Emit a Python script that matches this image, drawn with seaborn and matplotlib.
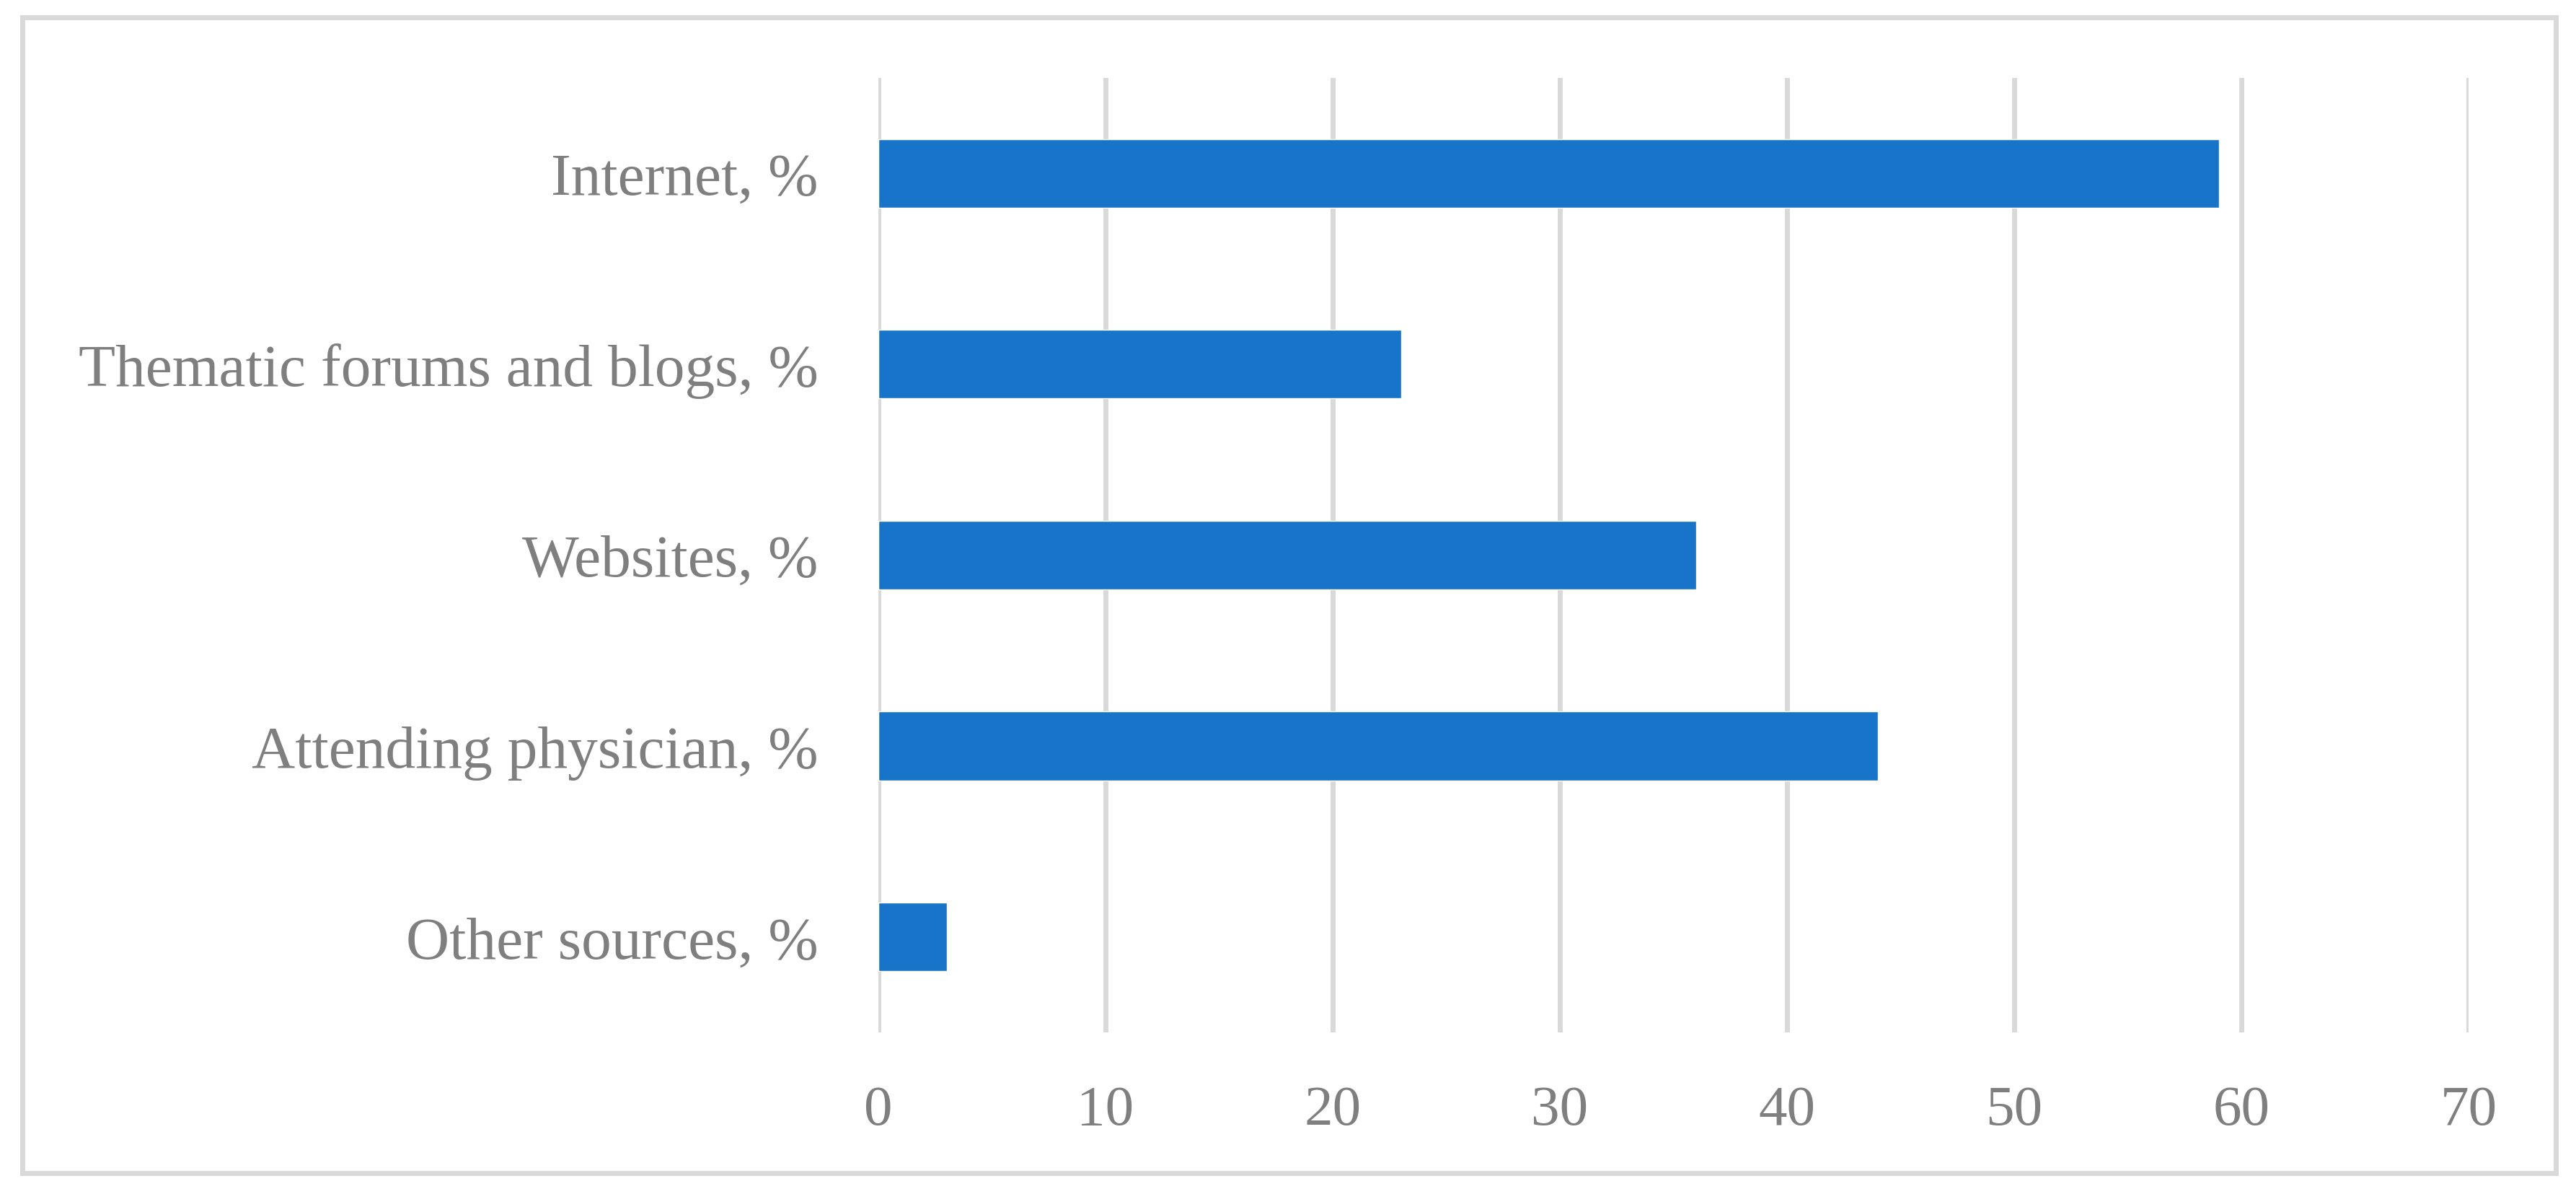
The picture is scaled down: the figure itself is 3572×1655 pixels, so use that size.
import matplotlib
matplotlib.use("Agg")
import matplotlib.pyplot as plt
from matplotlib.patches import Rectangle
import seaborn as sns
import pandas as pd

# === data ===
sources = ["Internet, %", "Thematic forums and blogs, %", "Websites, %",
           "Attending physician, %", "Other sources, %"]
shares = [59, 23, 36, 44, 3]
x_ticks = [0, 10, 20, 30, 40, 50, 60, 70]

df = pd.DataFrame({"source": sources, "share": shares})

sns.set_theme(style="white")
plt.rcParams["font.family"] = ["Liberation Serif", "DejaVu Serif"]

text_grey = "#7f7f7f"
grid_grey = "#d9d9d9"
bar_blue = "#1874c9"

fig = plt.figure(figsize=(35.72, 16.56), dpi=100)
ax = fig.add_axes([0.341, 0.1353, 0.9583 - 0.341, 0.9342 - 0.1353])

sns.barplot(data=df, x="share", y="source", orient="h", color=bar_blue,
            width=0.36, saturation=1, ax=ax, zorder=3)

ax.set_xlim(0, 70)
ax.set_ylim(4.5, -0.5)
ax.set_xticks(x_ticks)
ax.set_xticklabels([str(t) for t in x_ticks])
ax.set_xlabel("")
ax.set_ylabel("")

# vertical gridlines only, no spines
ax.grid(axis="x", color=grid_grey, linewidth=5, zorder=0)
ax.grid(axis="y", visible=False)
sns.despine(ax=ax, left=True, bottom=True)
ax.tick_params(axis="both", length=0, labelcolor=text_grey)
ax.tick_params(axis="x", pad=52, labelsize=57)
ax.tick_params(axis="y", pad=60, labelsize=60)

# outer frame round the whole chart
fig.patches.append(Rectangle((0.00854, 0.0175), 0.9835, 0.9677,
                             transform=fig.transFigure, fill=False,
                             edgecolor=grid_grey, linewidth=5))

fig.savefig("out.png", dpi=100, facecolor="white")
